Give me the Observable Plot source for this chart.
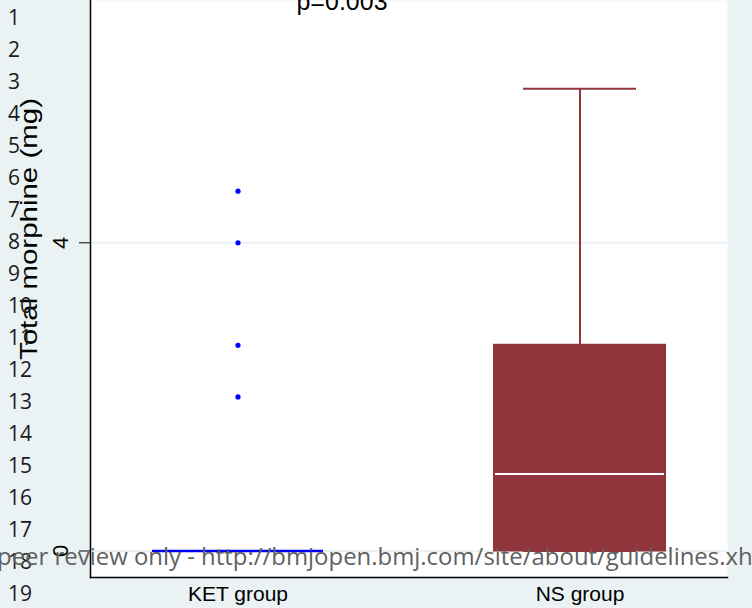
<!DOCTYPE html>
<html>
<head>
<meta charset="utf-8">
<script src="https://cdn.jsdelivr.net/npm/d3@7"></script>
<script src="https://cdn.jsdelivr.net/npm/@observablehq/plot@0.6"></script>
<style>
  html, body { margin: 0; padding: 0; background: #eaf2f3; }
  #page { position: relative; width: 752px; height: 608px; overflow: hidden; background: #eaf2f3; }
  #chart, #overlay { position: absolute; left: 0; top: 0; }
</style>
</head>
<body>
<div id="page">
  <div id="chart"></div>
  <svg id="overlay" width="752" height="608"></svg>
</div>
<script>
// Box plot summaries for total morphine (mg) by group
const groups = ["KET group", "NS group"];
const lowerWhisker = [0, 0];
const lowerQuartile = [0, 0];
const medians = [0, 1];
const upperQuartile = [0, 2.67];
const upperWhisker = [0, 6];
const ketOutliers = [4.67, 4, 2.67, 2];
const groupColors = ["#0000ff", "#90353b"];
const yTicks = [0, 4];
const pValueLabel = "p=0.003";
const yTitle = "Total morphine (mg)";

// Manuscript page decorations
const lineNumbers = [1, 2, 3, 4, 5, 6, 7, 8, 9, 10, 11, 12, 13, 14, 15, 16, 17, 18, 19];
const watermark = "For peer review only - http://bmjopen.bmj.com/site/about/guidelines.xhtml";

const table = groups.map((group, i) => ({
  group,
  lo: lowerWhisker[i],
  q1: lowerQuartile[i],
  median: medians[i],
  q3: upperQuartile[i],
  hi: upperWhisker[i]
}));

const font = "'Liberation Sans', Arial, Helvetica, sans-serif";

const chart = Plot.plot({
  width: 752,
  height: 608,
  marginLeft: 90,
  marginRight: 25,
  marginTop: 0,
  marginBottom: 31,
  style: { background: "transparent", fontFamily: font, color: "black" },
  x: { type: "band", domain: groups, paddingInner: 0.5, paddingOuter: 0.18, label: null },
  y: { domain: [-0.344, 7.145], label: null },
  color: { domain: groups, range: groupColors },
  marks: [
    Plot.frame({ fill: "white", stroke: null }),
    Plot.gridY(yTicks, { stroke: "#eaf2f3", strokeOpacity: 1, strokeWidth: 2 }),
    // whiskers
    Plot.ruleX(table, { x: "group", y1: "q3", y2: "hi", stroke: "group", strokeWidth: 2 }),
    Plot.ruleX(table, { x: "group", y1: "lo", y2: "q1", stroke: "group", strokeWidth: 2 }),
    Plot.tickY(table, { x: "group", y: "hi", stroke: "group", strokeWidth: 2, inset: 29 }),
    Plot.tickY(table, { x: "group", y: "lo", stroke: "group", strokeWidth: 2, inset: 29 }),
    // boxes
    Plot.barY(table, { x: "group", y1: "q1", y2: "q3", fill: "group", stroke: "group", strokeWidth: 2 }),
    // medians: white inside a filled box, group colour when the box is flat
    Plot.tickY(table.filter(d => d.q3 > d.q1), { x: "group", y: "median", stroke: "white", strokeWidth: 2, inset: 1 }),
    Plot.tickY(table.filter(d => d.q3 <= d.q1), { x: "group", y: "median", stroke: "group", strokeWidth: 2.5 }),
    // outside values
    Plot.dot(ketOutliers, { x: () => groups[0], y: d => d, r: 2.6, fill: groupColors[0], stroke: null }),
    Plot.axisY(yTicks, { tickSize: 11, tickPadding: 12, tickRotate: -90, fontSize: 22, tickFormat: d => String(d), label: null }),
    Plot.axisX({ tickSize: 0, tickPadding: 9, fontSize: 21, label: null }),
    Plot.frame({ anchor: "left", stroke: "black", strokeWidth: 1.5 }),
    Plot.frame({ anchor: "bottom", stroke: "black", strokeWidth: 1.5 }),
    Plot.text([pValueLabel], { frameAnchor: "top", text: d => d, dx: -67, dy: 9, lineAnchor: "bottom", fontSize: 25, fill: "black" }),
    Plot.text([yTitle], { frameAnchor: "left", textAnchor: "middle", text: d => d, rotate: -90, dx: -61, dy: -60, fontSize: 24, fill: "black" })
  ]
});

// stretch the vertical axis title along its length
d3.select(chart).selectAll("text")
  .filter(function () { return this.textContent === yTitle; })
  .attr("textLength", 262)
  .attr("lengthAdjust", "spacingAndGlyphs");

document.getElementById("chart").appendChild(chart);

// Page overlay: line numbers down the left edge and the review watermark
const overlay = d3.select("#overlay");
overlay.selectAll("text.ln")
  .data(lineNumbers)
  .join("text")
  .attr("class", "ln")
  .attr("x", 8)
  .attr("y", (d, i) => 25 + i * 32)
  .attr("font-family", "'Open Sans', 'Noto Sans', sans-serif")
  .attr("font-size", 21)
  .attr("fill", "#1a1a1a")
  .text(d => d);

// size the watermark so that "peer ... guidelines.xh" runs from the left edge to the right edge
const ctx = document.createElement("canvas").getContext("2d");
const wmFont = "'Open Sans', 'Noto Sans', sans-serif";
ctx.font = `100px ${wmFont}`;
const visible = watermark.slice(watermark.indexOf("peer"), watermark.indexOf("guidelines.xh") + 13);
const lead = watermark.slice(0, watermark.indexOf("peer"));
const wmSize = 100 * 756 / ctx.measureText(visible).width;
ctx.font = `${wmSize}px ${wmFont}`;
overlay.append("text")
  .attr("x", -3 - ctx.measureText(lead).width)
  .attr("y", 565)
  .attr("font-family", wmFont)
  .attr("font-size", wmSize)
  .attr("fill", "#616161")
  .text(watermark);
</script>
</body>
</html>
